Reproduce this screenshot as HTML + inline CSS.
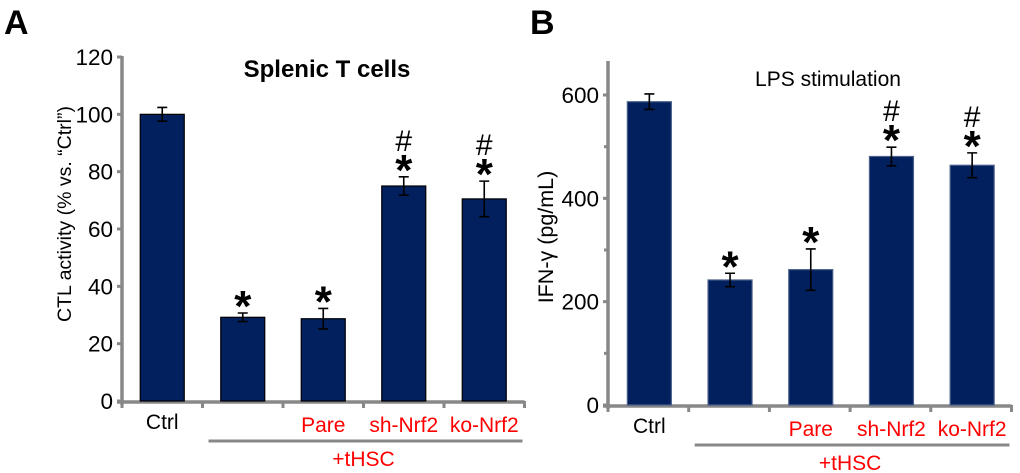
<!DOCTYPE html>
<html><head><meta charset="utf-8"><style>
html,body{margin:0;padding:0;background:#fff;width:1020px;height:473px;overflow:hidden}
svg{display:block;font-family:"Liberation Sans",Arial,sans-serif}
</style></head><body>
<svg id="fig" width="1020" height="473" viewBox="0 0 1020 473"></svg>
<script>
const categories = ["Ctrl", "", "Pare", "sh-Nrf2", "ko-Nrf2"];
const valuesA = [100, 29.2, 28.7, 75, 70.5];
const errorsA = [2.4, 1.5, 3.6, 3.2, 6.2];
const marksA = ["", "*", "*", "#*", "#*"];
const ticksA = [0, 20, 40, 60, 80, 100, 120];
const valuesB = [587, 242, 262, 481, 464];
const errorsB = [15, 13, 40, 18, 24];
const marksB = ["", "*", "*", "#*", "#*"];
const ticksB = [0, 200, 400, 600];
const minorB = [100, 300, 500];

const NS = "http://www.w3.org/2000/svg";
const svg = document.getElementById("fig");
function el(tag, attrs, parent, text) {
  const e = document.createElementNS(NS, tag);
  for (const k in attrs) e.setAttribute(k, attrs[k]);
  if (text !== undefined) e.textContent = text;
  (parent || svg).appendChild(e);
  return e;
}

function panel(cfg) {
  const g = el("g", {});
  
  
  const y = v => cfg.y0 - (v / cfg.max) * (cfg.y0 - cfg.yTop);
  const xc = i => cfg.x0 + cfg.step * (i + 0.5) + cfg.off;
  const lt = el("text", {x: cfg.letterX, y: 34, "font-size": 34, "font-weight": "bold"}, g, cfg.letter);
  
  
  const tt = el("text", {x: cfg.titleX, y: cfg.titleY, "font-size": cfg.titleSize, "font-weight": cfg.titleWeight, "text-anchor": "middle"}, g, cfg.title);
  
  
  const ya = el("line", {x1: cfg.x0, x2: cfg.x0, y1: cfg.axisTop, y2: cfg.y0 + 4, stroke: "#888", "stroke-width": 3.5}, g);
  
  
  cfg.ticks.forEach(t => {
    el("line", {x1: cfg.x0 - 5, x2: cfg.x0, y1: y(t), y2: y(t), stroke: "#888", "stroke-width": 3}, g);
    const tl = el("text", {x: cfg.x0 - 9, y: y(t) + 8, "font-size": 22.5, "text-anchor": "end"}, g, t);
    
    
  });
  (cfg.minor || []).forEach(t => {
    el("line", {x1: cfg.x0 - 4, x2: cfg.x0, y1: y(t), y2: y(t), stroke: "#888", "stroke-width": 3}, g);
  });
  const yl = el("text", {transform: `translate(${cfg.ylX},${cfg.ylY}) rotate(-90)`, "font-size": cfg.ylSize, "text-anchor": "middle"}, g, cfg.ylabel);
  
  
  const xEnd = cfg.x0 + cfg.step * categories.length;
  const xa = el("line", {x1: cfg.x0 - 5, x2: xEnd, y1: cfg.y0 + 1, y2: cfg.y0 + 1, stroke: "#888", "stroke-width": 3.5}, g);
  
  
  for (let i = 0; i <= categories.length; i++) {
    const tx = cfg.x0 + cfg.step * i;
    el("line", {x1: tx, x2: tx, y1: cfg.y0, y2: cfg.y0 + 7, stroke: "#888", "stroke-width": 3}, g);
  }
  cfg.values.forEach((v, i) => {
    const cx = xc(i), bw = 44;
    const b = el("rect", {x: cx - bw / 2, y: y(v), width: bw, height: cfg.y0 - y(v), fill: "#02205e", stroke: cfg.barStroke, "stroke-width": 1.2}, g);
    
    
    const e = cfg.errors[i];
    const eb = el("path", {d: `M${cx},${y(v + e)}V${y(v - e)}M${cx - 5},${y(v + e)}H${cx + 5}M${cx - 5},${y(v - e)}H${cx + 5}`, stroke: "#000", "stroke-width": 1.6, fill: "none"}, g);
    
    
    const m = cfg.marks[i];
    const top = y(v + e);
    if (m.includes("*")) {
      const s = el("text", {x: cx, y: top + 8, "font-size": 44, "font-weight": "bold", "text-anchor": "middle"}, g, "*");
      
      
    }
    if (m.includes("#")) {
      const h = el("text", {x: cx, y: top - 26, "font-size": 30, "text-anchor": "middle"}, g, "#");
      
      
    }
    if (categories[i]) {
      const cl = el("text", {x: cx, y: i === 0 ? cfg.y0 + 28 : cfg.y0 + 31, "font-size": 21, "text-anchor": "middle", fill: i === 0 ? "#000" : "#f00"}, g, categories[i]);
      
      
    }
  });
  const gl = el("line", {x1: cfg.x0 + cfg.step + 6, x2: xEnd - 2, y1: cfg.y0 + 40, y2: cfg.y0 + 40, stroke: "#888", "stroke-width": 3}, g);
  
  
  const gt = el("text", {x: (cfg.x0 + cfg.step + xEnd) / 2, y: cfg.y0 + 65, "font-size": 21, "text-anchor": "middle", fill: "#f00"}, g, "+tHSC");
  
  
}

panel({name: "panel-a", letter: "A", letterX: 4, title: "Splenic T cells", titleX: 327, titleY: 77, titleSize: 24, titleWeight: "bold",
  x0: 122, step: 80.5, off: 0, y0: 401, yTop: 57, axisTop: 56, max: 120, ticks: ticksA, minor: [],
  ylabel: "CTL activity (% vs. \u201cCtrl\u201d)", ylX: 71, ylY: 214, ylSize: 19.5,
  values: valuesA, errors: errorsA, marks: marksA, barStroke: "#000"});
panel({name: "panel-b", letter: "B", letterX: 530, title: "LPS stimulation", titleX: 828, titleY: 86, titleSize: 21, titleWeight: "normal",
  x0: 608, step: 80.7, off: 1, y0: 405, yTop: 95, axisTop: 61, max: 600, ticks: ticksB, minor: minorB,
  ylabel: "IFN-\u03b3 (pg/mL)", ylX: 553, ylY: 237, ylSize: 21.5,
  values: valuesB, errors: errorsB, marks: marksB, barStroke: "#4a5f8a"});
</script>
</body></html>
